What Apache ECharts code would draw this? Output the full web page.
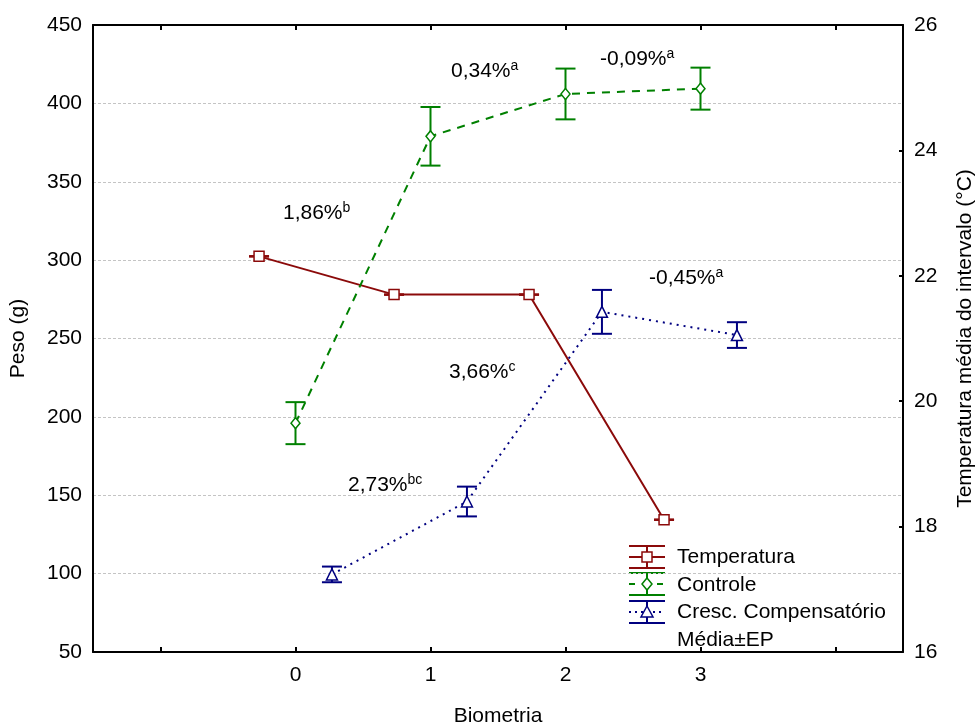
<!DOCTYPE html>
<html><head><meta charset="utf-8">
<script src="https://cdn.jsdelivr.net/npm/echarts@6/dist/echarts.min.js"></script>
<style>html,body{margin:0;padding:0;background:#fff}#c{width:975px;height:727px}</style>
</head><body><div id="c"></div>
<script>
// ---- data ----
const biometria = [0, 1, 2, 3];
const xTickLabels = ['0', '1', '2', '3'];
const temperatura = [22.31, 21.70, 21.70, 18.11];
const temperaturaEP = [0.005, 0.005, 0.005, 0.005];
const controle = [196, 379, 406, 409.4];
const controleEP = [13.4, 18.7, 16.2, 13.4];
const compensatorio = [99.5, 146, 267, 252.2];
const compensatorioEP = [5, 9.5, 14, 8.2];
const seriesNames = ['Temperatura', 'Controle', 'Cresc. Compensatório'];
const legendNote = 'Média±EP';
const annotMain = ['1,86%', '0,34%', '-0,09%', '-0,45%', '3,66%', '2,73%'];
const annotSup = ['b', 'a', 'a', 'a', 'c', 'bc'];
const pesoTicks = [50, 450, 50];   // min, max, step
const tempTicks = [16, 26, 2];

// ---- styling ----
const FONT = '"Liberation Sans", Arial, sans-serif';
const RED = '#8B0A0A', GREEN = '#008000', NAVY = '#000080';
const OFFSET = [-0.27, 0, 0.27];

function pts(vals, off) { return vals.map((v, i) => [biometria[i] + off, v]); }
function errs(vals, ep, off) { return vals.map((v, i) => [biometria[i] + off, v - ep[i], v + ep[i]]); }

function errRender(color) {
  return function (params, api) {
    const x = api.value(0), lo = api.value(1), hi = api.value(2);
    const a = api.coord([x, hi]), b = api.coord([x, lo]);
    const w = 10;
    const st = { stroke: color, lineWidth: 2 };
    return { type: 'group', children: [
      { type: 'line', shape: { x1: a[0], y1: a[1], x2: b[0], y2: b[1] }, style: st },
      { type: 'line', shape: { x1: a[0] - w, y1: a[1], x2: a[0] + w, y2: a[1] }, style: st },
      { type: 'line', shape: { x1: b[0] - w, y1: b[1], x2: b[0] + w, y2: b[1] }, style: st }
    ]};
  };
}

// legend graphic
function legendIcon(cy, color, dash, marker) {
  const x1 = 629, x2 = 665, cx = 647, h = 11;
  const st = { stroke: color, lineWidth: 2 };
  const ch = [
    { type: 'line', shape: { x1, y1: cy - h, x2, y2: cy - h }, style: st },
    { type: 'line', shape: { x1, y1: cy + h, x2, y2: cy + h }, style: st },
    { type: 'line', shape: { x1: cx, y1: cy - h, x2: cx, y2: cy + h }, style: st },
    { type: 'line', shape: { x1, y1: cy, x2, y2: cy }, style: { stroke: color, lineWidth: 2, lineDash: dash } }
  ];
  const mst = { fill: '#fff', stroke: color, lineWidth: 1.5 };
  if (marker === 'rect') ch.push({ type: 'rect', shape: { x: cx - 5, y: cy - 5, width: 10, height: 10 }, style: mst });
  if (marker === 'diamond') ch.push({ type: 'polygon', shape: { points: [[cx, cy - 6], [cx + 5, cy], [cx, cy + 6], [cx - 5, cy]] }, style: mst });
  if (marker === 'triangle') ch.push({ type: 'polygon', shape: { points: [[cx, cy - 6], [cx + 6, cy + 5], [cx - 6, cy + 5]] }, style: mst });
  return ch;
}
function legendText(y, t) {
  return { type: 'text', x: 677, y, style: { text: t, fontSize: 21, fontFamily: FONT, fill: '#000', verticalAlign: 'middle' } };
}
const annotPos = [[283, 213], [451, 71], [600, 59], [649, 278], [449, 372], [348, 485]];
const annotGraphics = annotMain.map((m, i) => ({
  type: 'text', x: annotPos[i][0], y: annotPos[i][1], z: 10,
  style: {
    text: '{n|' + m + '}{s|' + annotSup[i] + '}',
    verticalAlign: 'middle',
    rich: {
      n: { fontSize: 21, fontFamily: FONT, fill: '#000', lineHeight: 24 },
      s: { fontSize: 14, fontFamily: FONT, fill: '#000', lineHeight: 14, verticalAlign: 'top' }
    }
  }
}));

const chart = echarts.init(document.getElementById('c'), null, { renderer: 'canvas' });
const axisLineStyle = { color: '#000', width: 2 };
chart.setOption({
  animation: false,
  backgroundColor: '#fff',
  grid: { left: 93, right: 72, top: 25, bottom: 75, containLabel: false, outerBoundsMode: 'none' },
  xAxis: [
    { type: 'value', min: -1.5, max: 4.5, position: 'bottom',
      name: 'Biometria', nameLocation: 'middle', nameGap: 54,
      nameTextStyle: { fontSize: 21, fontFamily: FONT, color: '#000' },
      axisLine: { lineStyle: axisLineStyle, onZero: false },
      axisTick: { inside: true, length: 5, lineStyle: { color: '#000', width: 2 }, customValues: [-1, 0, 1, 2, 3, 4] },
      axisLabel: { fontSize: 21, fontFamily: FONT, color: '#000', margin: 13, customValues: biometria,
        formatter: v => xTickLabels[biometria.indexOf(v)] },
      splitLine: { show: false } },
    { type: 'value', min: -1.5, max: 4.5, position: 'top',
      axisLine: { lineStyle: axisLineStyle, onZero: false },
      axisTick: { inside: true, length: 5, lineStyle: { color: '#000', width: 2 }, customValues: [-1, 0, 1, 2, 3, 4] },
      axisLabel: { show: false }, splitLine: { show: false } }
  ],
  yAxis: [
    { type: 'value', min: pesoTicks[0], max: pesoTicks[1], interval: pesoTicks[2], position: 'left',
      name: 'Peso (g)', nameLocation: 'middle', nameGap: 64, nameRotate: 90,
      nameTextStyle: { fontSize: 21, fontFamily: FONT, color: '#000' },
      axisLine: { show: true, lineStyle: axisLineStyle, onZero: false },
      axisTick: { show: false },
      axisLabel: { fontSize: 21, fontFamily: FONT, color: '#000', margin: 11 },
      splitLine: { show: true, lineStyle: { color: '#c4c4c4', width: 1, type: [3, 2] } } },
    { type: 'value', min: tempTicks[0], max: tempTicks[1], interval: tempTicks[2], position: 'right',
      name: 'Temperatura média do intervalo (°C)', nameLocation: 'middle', nameGap: 52, nameRotate: 90,
      nameTextStyle: { fontSize: 21, fontFamily: FONT, color: '#000' },
      axisLine: { show: true, lineStyle: axisLineStyle, onZero: false },
      axisTick: { show: true, inside: true, length: 4, lineStyle: { color: '#000', width: 2 } },
      axisLabel: { fontSize: 21, fontFamily: FONT, color: '#000', margin: 11 },
      splitLine: { show: false } }
  ],
  series: [
    { type: 'custom', name: 'epT', xAxisIndex: 0, yAxisIndex: 1, z: 2, renderItem: errRender(RED),
      data: errs(temperatura, temperaturaEP, OFFSET[0]), encode: { x: 0, y: [1, 2] } },
    { type: 'custom', name: 'epC', xAxisIndex: 0, yAxisIndex: 0, z: 2, renderItem: errRender(GREEN),
      data: errs(controle, controleEP, OFFSET[1]), encode: { x: 0, y: [1, 2] } },
    { type: 'custom', name: 'epR', xAxisIndex: 0, yAxisIndex: 0, z: 2, renderItem: errRender(NAVY),
      data: errs(compensatorio, compensatorioEP, OFFSET[2]), encode: { x: 0, y: [1, 2] } },
    { type: 'line', name: seriesNames[0], xAxisIndex: 0, yAxisIndex: 1, z: 3,
      data: pts(temperatura, OFFSET[0]), symbol: 'rect', symbolSize: 10,
      lineStyle: { color: RED, width: 2, type: 'solid' },
      itemStyle: { color: '#fff', borderColor: RED, borderWidth: 1.5 } },
    { type: 'line', name: seriesNames[1], xAxisIndex: 0, yAxisIndex: 0, z: 3,
      data: pts(controle, OFFSET[1]), symbol: 'diamond', symbolSize: [9, 11],
      lineStyle: { color: GREEN, width: 2, type: [8, 7] },
      itemStyle: { color: '#fff', borderColor: GREEN, borderWidth: 1.5 } },
    { type: 'line', name: seriesNames[2], xAxisIndex: 0, yAxisIndex: 0, z: 3,
      data: pts(compensatorio, OFFSET[2]), symbol: 'triangle', symbolSize: 11,
      lineStyle: { color: NAVY, width: 2, type: [2, 5] },
      itemStyle: { color: '#fff', borderColor: NAVY, borderWidth: 1.5 } }
  ],
  graphic: [
    ...legendIcon(557, RED, null, 'rect'),
    ...legendIcon(584, GREEN, [6, 8], 'diamond'),
    ...legendIcon(612, NAVY, [2, 4], 'triangle'),
    legendText(557, seriesNames[0]),
    legendText(585, seriesNames[1]),
    legendText(612, seriesNames[2]),
    legendText(640, legendNote),
    ...annotGraphics
  ]
});
</script></body></html>
